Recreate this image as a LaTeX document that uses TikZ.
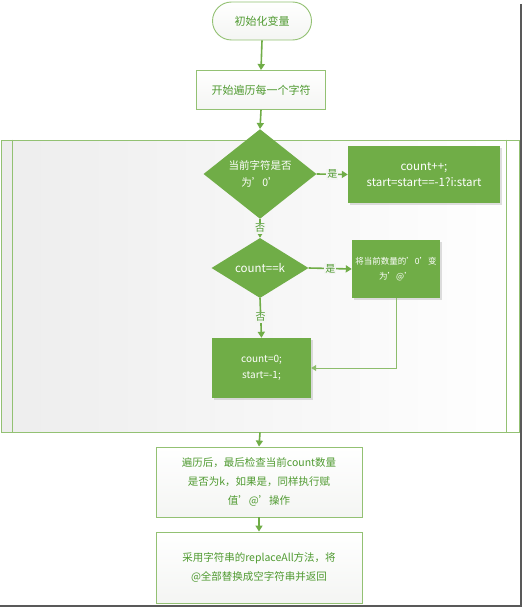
\documentclass[tikz,border=0pt]{standalone}
\usepackage{fontspec}
\setmainfont{Noto Sans CJK SC}
\usetikzlibrary{shapes.geometric,arrows.meta,shadows}
\definecolor{gr}{HTML}{70AD47}
\definecolor{grline}{HTML}{93C173}
\definecolor{grtext}{HTML}{4F9A30}
\definecolor{bgc}{HTML}{F4F5F3}
\begin{document}
\begin{tikzpicture}[x=1pt,y=-1pt,
  lightbox/.style={draw=grline, line width=0.9pt, top color=white, bottom color=bgc, text=grtext,
    font=\fontsize{10.5}{19}\selectfont, align=center, inner sep=0pt},
  fillbox/.style={fill=gr, text=white, font=\fontsize{10.5}{16}\selectfont, align=center, inner sep=0pt,
    drop shadow={opacity=0.25, shadow xshift=1.5pt, shadow yshift=-1.5pt}},
  dia/.style={diamond, fill=gr, text=white, font=\fontsize{10.5}{17}\selectfont, align=center, inner sep=0pt},
  arr/.style={draw=gr, line width=1.6pt, -{Triangle[width=7pt,length=6pt]}},
  thinarr/.style={draw=gr!80, line width=1pt, -{Triangle[width=6pt,length=5pt]}},
  lab/.style={text=grtext, font=\fontsize{10}{12}\selectfont, inner sep=1pt, fill=bgc}
]
\useasboundingbox (0,0) rectangle (527,610);
\fill[white] (0,0) rectangle (527,610);

% loop container
\node[draw=grline, line width=0.9pt, minimum width=518, minimum height=292, inner sep=0pt,
  shading=axis, shading angle=135, left color=gray!14, right color=white] (loop) at (260,286) {};
\draw[grline, line width=0.8pt] ([xshift=12pt]loop.north west) -- ([xshift=12pt]loop.south west);
\draw[grline, line width=0.8pt] ([xshift=-13pt]loop.north east) -- ([xshift=-13pt]loop.south east);

\node[lightbox, rounded corners=19pt, minimum width=99, minimum height=38, font=\fontsize{11}{13}\selectfont] (start) at (262,21) {初始化变量};
\node[lightbox, minimum width=129, minimum height=39, font=\fontsize{11}{13}\selectfont] (iter) at (261,90) {开始遍历每一个字符};

\node[dia, minimum width=113, minimum height=68] (d1) at (260,174) {当前字符是否\\为’0’};
\node[fillbox, minimum width=152, minimum height=57, font=\fontsize{11.5}{16}\selectfont] (ba) at (424,174.5) {count++;\\start=start==-1?i:start};

\node[dia, minimum width=97, minimum height=60, font=\fontsize{11.5}{14}\selectfont] (d2) at (260,268) {count==k};
\node[fillbox, minimum width=88, minimum height=58, font=\fontsize{8.5}{15}\selectfont] (bb) at (396,269) {将当前数量的’0’变\\为’@’};

\node[fillbox, minimum width=99, minimum height=60, font=\fontsize{10}{16}\selectfont] (bc) at (261.5,368) {count=0;\\start=-1;};

\node[lightbox, minimum width=206, minimum height=70] (b4) at (259,482) {遍历后，最后检查当前count数量\\是否为k，如果是，同样执行赋\\值’@’操作};
\node[lightbox, minimum width=206, minimum height=71] (b5) at (259,567.5) {采用字符串的replaceAll方法，将\\@全部替换成空字符串并返回};

% connectors
\draw[arr] (start.south) -- (iter.north);
\draw[arr] (iter.south) -- (d1.north);
\draw[arr] (d1.east) -- node[lab] {是} (ba.west);
\draw[arr] (d1.south) -- node[lab, pos=0.5] {否} (d2.north);
\draw[arr] (d2.east) -- node[lab] {是} (bb.west);
\draw[arr] (d2.south) -- node[lab, pos=0.48] {否} (bc.north);
\draw[thinarr] (bb.south) |- (bc.east);
\draw[arr] (loop.south) -- (b4.north);
\draw[arr] (b4.south) -- (b5.north);

% screenshot frame shadow
\draw[gray!70!black, line width=1.5pt] (521,4) -- (521,606) -- (0,606);
\end{tikzpicture}
\end{document}
